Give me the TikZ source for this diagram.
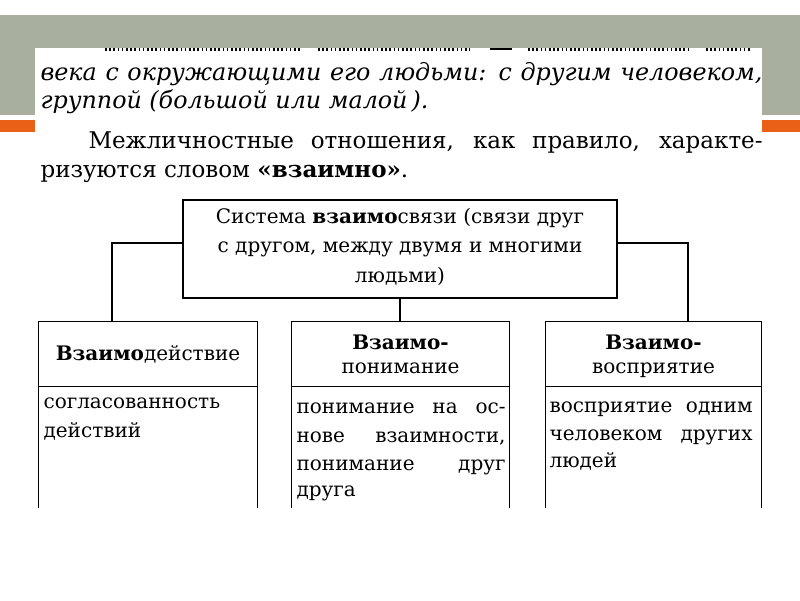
\documentclass[tikz,border=0pt]{standalone}
\usepackage{fontspec}
\setmainfont{DejaVu Serif}
\definecolor{bandgray}{RGB}{168,175,158}
\definecolor{bandorange}{RGB}{234,96,22}
\begin{document}
\begin{tikzpicture}[x=1pt,y=-1pt,
  line width=1.1pt,
  pagetxt/.style={inner sep=0pt, anchor=base west, font=\fontsize{23}{27}\selectfont},
  italtxt/.style={inner sep=0pt, anchor=base west, font=\fontsize{23.8}{29}\selectfont\itshape},
  boxtxt/.style={inner sep=0pt, anchor=base, font=\fontsize{20}{24}\selectfont},
  bodytxt/.style={inner sep=0pt, anchor=base west, font=\fontsize{20}{24}\selectfont},
  feet/.style={line width=3pt, dash pattern=on 1.6pt off 2.6pt},
  frame/.style={draw=none, shape=rectangle, inner sep=0pt}]
\useasboundingbox (0,0) rectangle (800,600);
\fill[white] (0,0) rectangle (800,600);
% slide decoration
\fill[bandgray] (0,15) rectangle (800,115);
\fill[bandorange] (0,120) rectangle (35,132);
\fill[bandorange] (762,120) rectangle (800,132);
\fill[white] (35,48) rectangle (762,512);
% feet of the letters of the cut-off first line
\draw[feet] (105,49.5) -- (300,49.5);
\draw[feet] (318,49.5) -- (470,49.5);
\draw[line width=2pt] (490,49) -- (512,49);
\draw[feet] (528,49.5) -- (690,49.5);
\draw[feet] (706,49.5) -- (752,49.5);
% page text
\node[italtxt] (l1) at (40,80) {\makebox[722pt][s]{века с окружающими его людьми: с другим человеком,}};
\node[italtxt] (l2) at (40,108) {группой (большой или малой\,).};
\node[pagetxt] (l3) at (88,148) {\makebox[674pt][s]{Межличностные отношения, как правило, характе-}};
\node[pagetxt] (l4) at (40,177) {ризуются словом \textbf{«взаимно»}.};
% top box
\node[frame, draw, minimum width=434pt, minimum height=98pt] (sys) at (400,249) {};
\node[boxtxt] (s1) at (400,223) {Система \textbf{взаимо}связи (связи друг};
\node[boxtxt] (s2) at (400,252) {с другом, между двумя и многими};
\node[boxtxt] (s3) at (400,282) {людьми)};
% bottom boxes (open at the bottom)
\node[frame, minimum width=218pt, minimum height=185pt] (L) at (148,414.5) {};
\node[frame, minimum width=217pt, minimum height=185pt] (M) at (400.5,414.5) {};
\node[frame, minimum width=215pt, minimum height=185pt] (R) at (653.5,414.5) {};
\foreach \b in {L,M,R}{
  \draw (\b.south west) -- (\b.north west) -- (\b.north east) -- (\b.south east);
  \draw ([yshift=-65pt]\b.north west) -- ([yshift=-65pt]\b.north east);
}
% connectors
\draw ([yshift=6pt]sys.west) -| ([xshift=-36pt]L.north);
\draw ([yshift=6pt]sys.east) -| ([xshift=34.5pt]R.north);
\draw (sys.south) -- (sys.south |- M.north);
% headers
\node[boxtxt] (h1) at (148,360) {\textbf{Взаимо}действие};
\node[boxtxt] (h2a) at (400.5,349) {\textbf{Взаимо-}};
\node[boxtxt] (h2b) at (400.5,373) {понимание};
\node[boxtxt] (h3a) at (653.5,349) {\textbf{Взаимо-}};
\node[boxtxt] (h3b) at (653.5,373) {восприятие};
% bodies
\node[bodytxt] (b11) at (43,408) {согласованность};
\node[bodytxt] (b12) at (43,437) {действий};
\node[bodytxt] (b21) at (296,413) {\makebox[209pt][s]{понимание на ос-}};
\node[bodytxt] (b22) at (296,442) {\makebox[209pt][s]{нове взаимности,}};
\node[bodytxt] (b23) at (296,470) {\makebox[209pt][s]{понимание друг}};
\node[bodytxt] (b24) at (296,496) {друга};
\node[bodytxt] (b31) at (549,412) {\makebox[203pt][s]{восприятие одним}};
\node[bodytxt] (b32) at (549,440) {\makebox[203pt][s]{человеком других}};
\node[bodytxt] (b33) at (549,467) {людей};
\end{tikzpicture}
\end{document}
